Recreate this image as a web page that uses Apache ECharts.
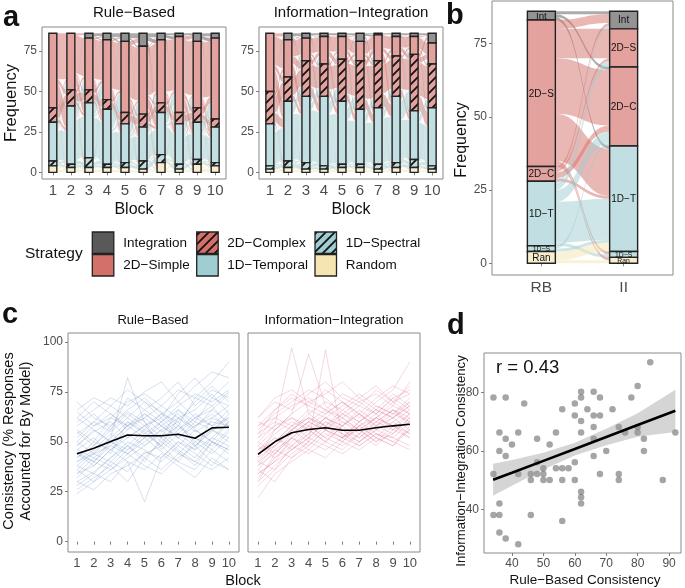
<!DOCTYPE html>
<html>
<head>
<meta charset="utf-8">
<script src="https://cdn.jsdelivr.net/npm/echarts@6/dist/echarts.min.js"></script>
<style>
  html, body { margin: 0; padding: 0; background: #fff; }
  #chart { width: 685px; height: 588px; }
</style>
</head>
<body>
<div id="chart"></div>
<script>
// ---- data -------------------------------------------------------------
var strategies = ['Integration', '2D−Simple', '2D−Complex', '1D−Temporal', '1D−Spectral', 'Random'];
var stratShort = ['Int', '2D−S', '2D−C', '1D−T', '1D−S', 'Ran'];
var blocks = [1, 2, 3, 4, 5, 6, 7, 8, 9, 10];
var freqTicks = [0, 25, 50, 75];
var consTicks = [0, 25, 50, 75, 100];
var groups = ['RB', 'II'];

// participants per strategy in each block (same order as strategies, top of the stack first)
var rbCounts = [
  [0, 46, 9, 24, 3, 4],
  [0, 35, 10, 36, 2, 3],
  [3, 32, 8, 34, 6, 3],
  [4, 37, 6, 34, 2, 3],
  [5, 44, 7, 24, 3, 3],
  [8, 42, 8, 21, 5, 2],
  [4, 39, 6, 26, 5, 6],
  [2, 47, 7, 25, 3, 2],
  [5, 41, 9, 23, 3, 5],
  [3, 50, 5, 22, 2, 4]
];
var iiCounts = [
  [0, 36, 20, 26, 2, 2],
  [4, 23, 15, 37, 4, 3],
  [3, 14, 22, 41, 4, 2],
  [2, 17, 20, 43, 2, 2],
  [2, 14, 26, 39, 2, 3],
  [5, 12, 30, 34, 2, 3],
  [1, 16, 29, 35, 3, 2],
  [2, 12, 25, 41, 3, 3],
  [2, 11, 35, 30, 5, 3],
  [6, 13, 27, 36, 2, 2]
];
// final block: RB strategy (rows) -> II strategy (columns)
var rbToII = [
  [1, 0, 1, 1, 0, 0],
  [3, 10, 19, 16, 1, 1],
  [1, 1, 2, 1, 0, 0],
  [1, 2, 4, 14, 1, 0],
  [0, 0, 1, 1, 0, 0],
  [0, 0, 0, 3, 0, 1]
];

// consistency per participant and block
var rbLines = [
  [38,45,52,60,55,48,62,57,66,60],[30,35,42,48,40,52,45,38,50,46],[52,60,55,62,70,65,58,72,68,75],
  [45,40,50,58,62,55,60,48,55,64],[28,34,30,40,36,44,38,32,42,36],[60,66,72,68,75,80,70,78,85,82],
  [42,50,46,54,48,56,62,55,60,58],[36,30,40,35,45,42,50,44,38,48],[55,48,58,65,60,52,66,60,72,68],
  [48,55,60,52,58,64,56,62,58,66],[34,42,38,46,52,45,40,50,56,52],[65,58,62,70,74,68,76,72,80,90],
  [40,46,54,48,42,50,58,52,46,55],[50,44,48,56,64,58,52,46,62,58],[26,32,38,30,42,36,44,40,36,42],
  [58,64,56,72,66,60,68,74,70,76],[44,38,46,52,58,62,54,48,56,50],[32,40,48,44,50,56,48,42,52,60],
  [62,70,64,58,66,72,80,68,76,72],[46,52,44,60,54,48,56,64,58,62],[38,34,42,50,46,40,48,56,50,44],
  [54,60,68,62,56,64,70,62,66,74],[30,26,34,38,44,48,40,36,46,40],[48,56,50,46,54,60,52,58,64,56],
  [70,62,58,66,72,64,60,70,78,70],[42,48,56,64,58,50,44,52,48,56],[36,44,40,48,56,52,58,50,44,52],
  [56,50,62,58,52,60,66,58,62,68],[24,30,36,44,38,34,42,48,40,36],[50,58,64,56,62,68,62,66,74,64],
  [44,40,36,42,48,54,46,40,50,46],[62,56,50,58,64,58,52,60,56,62],[40,44,52,82,60,46,54,62,68,58],
  [34,38,46,40,20,42,50,46,52,48],[66,72,68,76,70,62,74,82,72,80],[46,42,50,44,52,58,64,56,50,60]
];
var iiLines = [
  [40,50,58,62,56,64,60,66,62,70],[30,38,46,52,48,44,50,56,52,48],[52,62,68,72,66,74,70,64,72,76],
  [44,52,48,56,62,58,52,60,66,60],[34,40,52,46,54,50,58,52,48,56],[58,66,72,68,76,70,64,72,78,74],
  [46,54,60,56,50,58,64,58,54,62],[38,44,54,60,66,60,54,62,58,64],[50,58,97,64,58,66,60,68,64,70],
  [42,48,56,62,58,52,56,50,58,54],[28,36,44,50,46,52,48,54,50,46],[62,70,66,74,80,72,68,76,70,78],
  [48,56,62,58,64,70,64,58,66,62],[36,30,42,48,56,50,58,64,56,60],[54,60,56,64,70,66,72,66,74,68],
  [40,46,52,58,52,60,56,62,68,64],[32,42,48,44,50,46,54,48,56,52],[56,64,70,76,72,64,70,74,68,80],
  [44,50,58,52,60,56,50,58,62,56],[22,34,40,46,42,50,46,52,48,58],[60,56,64,70,66,62,68,64,72,66],
  [46,52,46,54,62,58,66,60,56,64],[38,48,56,50,58,64,58,52,60,54],[50,44,52,60,56,52,60,66,62,68],
  [42,56,64,94,68,62,56,62,70,64],[34,40,46,52,60,54,48,54,52,60],[58,62,58,66,62,68,74,68,64,72],
  [48,42,50,58,52,48,54,60,66,58],[30,44,52,48,56,62,56,50,54,62],[54,66,74,68,64,70,62,70,76,90],
  [44,48,54,60,56,52,58,62,58,52],[40,36,48,54,62,56,52,58,64,60],[52,58,62,56,50,58,64,56,60,66],
  [36,46,42,50,96,52,60,54,50,56],[62,72,76,70,74,80,72,78,70,74],[46,50,56,62,58,54,50,56,62,68]
];
var rbMean = [44, 46.8, 50.2, 53.4, 53, 53, 53.8, 51.8, 57, 57.3];
var iiMean = [43.7, 50, 54.5, 56.2, 57, 55.8, 55.8, 57, 58, 58.8];

// mean consistency per participant
var rbCons = [34.1,38,43.9,34.1,36,36,38,38,40,42,42,36,34.1,36,36,38,42,46,46,46,48,48,48,50,50,50,52,52,54,54,
  56,56,56,56,58,60,60,60,60,62,62,62,62,62,62,62,64,66,66,66,66,66,68,68,68,72,70,74,74,74,76,78,80,80,80,82,82,84,88,92];
var iiCons = [78.3,78.3,76.3,52.1,66.3,60,64.2,58.3,62.2,66.3,52.1,42,38,38,32,30,28,38,50,52.1,52.1,64.2,56.1,54.1,52.1,50,50,62.2,66.3,54.1,
  54.1,50,74.3,36,54.1,76.3,72.2,56.1,50,80.3,78.3,70.3,66.3,46,44.1,42,74.3,80.3,72.2,68.2,64.2,58.3,78.3,72.2,52.1,74.3,60,68.2,52.1,50,
  66.3,78.3,82.3,68.2,66.3,64.2,60,90.4,50,66.3];
var fitX = [34, 40, 50, 60, 70, 80, 92];
var fitY = [50.1, 52.5, 56.6, 60.7, 64.8, 68.9, 73.8];
var fitUpper = [55.6, 56.9, 59.4, 62.8, 67.6, 72.9, 81.0];
var fitLower = [44.6, 48.1, 53.6, 58.4, 62.0, 64.9, 66.5];
var rText = 'r = 0.43';

// ---- styling helpers ---------------------------------------------------
var FONT = 'Liberation Sans, Arial, Helvetica, sans-serif';
var baseColors = ['#595959', '#d4706a', '#d4706a', '#9fcdd2', '#9fcdd2', '#f4e5b2'];
var hatched = [false, false, true, false, true, false];
var tickGray = '#7f7f7f', labelGray = '#4d4d4d';

function hexRgb(h) { return [parseInt(h.substr(1, 2), 16), parseInt(h.substr(3, 2), 16), parseInt(h.substr(5, 2), 16)]; }
function lighten(h, a) {
  var c = hexRgb(h);
  return 'rgb(' + c.map(function (v) { return Math.round(255 - a * (255 - v)); }).join(',') + ')';
}
function rgba(h, a) { return 'rgba(' + hexRgb(h).join(',') + ',' + a + ')'; }
function hatch(bg, size) {
  var c = document.createElement('canvas');
  c.width = size; c.height = size;
  var g = c.getContext('2d');
  g.fillStyle = bg; g.fillRect(0, 0, size, size);
  g.strokeStyle = '#111'; g.lineWidth = 1.8;
  g.beginPath();
  g.moveTo(0, size); g.lineTo(size, 0);
  g.moveTo(-2, 2); g.lineTo(2, -2);
  g.moveTo(size - 2, size + 2); g.lineTo(size + 2, size - 2);
  g.stroke();
  return { image: c, repeat: 'repeat' };
}
var plainFill = baseColors.map(function (c) { return lighten(c, 0.65); });
var strataFill = plainFill.map(function (bg, k) { return hatched[k] ? hatch(bg, 9) : bg; });
var legendFill = baseColors.map(function (c, k) { return hatched[k] ? hatch(c, 9) : c; });
var flowFill = baseColors.map(function (c) { return rgba(c, 0.5); });

function sum(a) { return a.reduce(function (s, v) { return s + v; }, 0); }

// derive a transition table between two neighbouring blocks:
// part of each strategy stays, the rest mixes in proportion to what is left
function blockFlows(a, b) {
  var n = a.length, keep = [], outR = [], inR = [], tot = 0, f = [];
  for (var i = 0; i < n; i++) {
    keep[i] = 0.55 * Math.min(a[i], b[i]);
    outR[i] = a[i] - keep[i]; inR[i] = b[i] - keep[i]; tot += outR[i];
  }
  for (i = 0; i < n; i++) {
    f[i] = [];
    for (var j = 0; j < n; j++) f[i][j] = (i === j ? keep[i] : 0) + (tot ? outR[i] * inR[j] / tot : 0);
  }
  return f;
}
function ribbons(f, a, c, xa, xb) {
  var out = [], aOff = [], cOff = [], ta = sum(a), tc = sum(c);
  for (var k = 0; k < a.length; k++) { aOff[k] = ta; ta -= a[k]; cOff[k] = tc; tc -= c[k]; }
  for (var i = 0; i < a.length; i++) {
    for (var j = 0; j < c.length; j++) {
      var v = f[i][j];
      if (v < 0.02) continue;
      out.push([xa, aOff[i], aOff[i] - v, xb, cOff[j], cOff[j] - v, i]);
      aOff[i] -= v; cOff[j] -= v;
    }
  }
  return out;
}
function flowData(counts, xs, hw) {
  var out = [];
  for (var b = 0; b < counts.length - 1; b++) {
    out = out.concat(ribbons(blockFlows(counts[b], counts[b + 1]), counts[b], counts[b + 1], xs[b] + hw, xs[b + 1] - hw));
  }
  return out;
}
function strataData(counts, xs) {
  var out = [];
  counts.forEach(function (c, b) {
    var top = sum(c);
    c.forEach(function (v, k) {
      if (v > 0) out.push([xs[b], top - v, top, k]);
      top -= v;
    });
  });
  return out;
}

function renderFlow(params, api) {
  var p1 = api.coord([api.value(0), api.value(1)]);
  var p2 = api.coord([api.value(0), api.value(2)]);
  var q1 = api.coord([api.value(3), api.value(4)]);
  var q2 = api.coord([api.value(3), api.value(5)]);
  var xm = (p1[0] + q1[0]) / 2;
  var d = 'M' + p1[0] + ' ' + p1[1] +
    'C' + xm + ' ' + p1[1] + ' ' + xm + ' ' + q1[1] + ' ' + q1[0] + ' ' + q1[1] +
    'L' + q2[0] + ' ' + q2[1] +
    'C' + xm + ' ' + q2[1] + ' ' + xm + ' ' + p2[1] + ' ' + p2[0] + ' ' + p2[1] + 'Z';
  return { type: 'path', shape: { pathData: d }, style: { fill: flowFill[api.value(6)] } };
}
function stratumRenderer(hw, fills, withLabel) {
  return function (params, api) {
    var k = api.value(3);
    var a = api.coord([api.value(0) - hw, api.value(2)]);
    var b = api.coord([api.value(0) + hw, api.value(1)]);
    var rect = {
      type: 'rect',
      shape: { x: a[0], y: a[1], width: b[0] - a[0], height: b[1] - a[1] },
      style: { fill: fills[k], stroke: '#222', lineWidth: 1.4 }
    };
    if (!withLabel) return rect;
    var h = b[1] - a[1];
    return {
      type: 'group',
      children: [rect, {
        type: 'text',
        style: {
          text: stratShort[k], x: (a[0] + b[0]) / 2, y: (a[1] + b[1]) / 2 + 0.5,
          align: 'center', verticalAlign: 'middle',
          fontSize: Math.min(10, h + 1), fontFamily: FONT, fill: '#111'
        }
      }]
    };
  };
}

function axis(gi, min, max, ticks, fontSize, margin, show, fmt) {
  return {
    type: 'value', gridIndex: gi, min: min, max: max,
    splitLine: { show: false },
    axisLine: { show: false },
    axisTick: { show: show, length: 3, lineStyle: { color: tickGray }, customValues: ticks },
    axisLabel: { show: show, fontSize: fontSize, color: labelGray, margin: margin, fontFamily: FONT,
      customValues: ticks, formatter: fmt }
  };
}
var gridStyle = { show: true, borderColor: '#8a8a8a', borderWidth: 1, backgroundColor: '#fff' };
function grid(l, t, w, h) {
  return Object.assign({ left: l, top: t, width: w, height: h }, gridStyle);
}

// ---- series -------------------------------------------------------------
var aHalf = 0.22, bHalf = 0.17;
var series = [];
[rbCounts, iiCounts].forEach(function (counts, gi) {
  series.push({ type: 'custom', xAxisIndex: gi, yAxisIndex: gi, renderItem: renderFlow,
    data: flowData(counts, blocks, aHalf), silent: true, z: 2 });
  series.push({ type: 'custom', xAxisIndex: gi, yAxisIndex: gi, renderItem: stratumRenderer(aHalf, strataFill, false),
    data: strataData(counts, blocks), silent: true, z: 3 });
});
var finals = [rbCounts[9], iiCounts[9]];
series.push({ type: 'custom', xAxisIndex: 2, yAxisIndex: 2, renderItem: renderFlow,
  data: ribbons(rbToII, finals[0], finals[1], 1 + bHalf, 2 - bHalf), silent: true, z: 2 });
series.push({ type: 'custom', xAxisIndex: 2, yAxisIndex: 2, renderItem: stratumRenderer(bHalf, plainFill, true),
  data: strataData(finals, [1, 2]), silent: true, z: 3 });

[[rbLines, rbMean, 'rgba(95,135,195,0.26)'], [iiLines, iiMean, 'rgba(215,105,140,0.26)']].forEach(function (g, i) {
  g[0].forEach(function (l) {
    series.push({ type: 'line', xAxisIndex: 3 + i, yAxisIndex: 3 + i, symbol: 'none', silent: true, z: 2,
      lineStyle: { width: 1, color: g[2] },
      data: blocks.map(function (b, j) { return [b, l[j]]; }) });
  });
  series.push({ type: 'line', xAxisIndex: 3 + i, yAxisIndex: 3 + i, symbol: 'none', silent: true, z: 4,
    lineStyle: { width: 1.6, color: '#000' },
    data: blocks.map(function (b, j) { return [b, g[1][j]]; }) });
});

series.push({ type: 'scatter', xAxisIndex: 5, yAxisIndex: 5, symbolSize: 6.5, silent: true, z: 2,
  itemStyle: { color: 'rgba(50,50,50,0.55)' },
  data: rbCons.map(function (x, i) { return [x, iiCons[i]]; }) });
series.push({ type: 'custom', xAxisIndex: 5, yAxisIndex: 5, silent: true, z: 3, data: [[fitX[0], fitY[0]]],
  renderItem: function (params, api) {
    var pts = fitX.map(function (x, i) { return api.coord([x, fitUpper[i]]); });
    for (var i = fitX.length - 1; i >= 0; i--) pts.push(api.coord([fitX[i], fitLower[i]]));
    return { type: 'polygon', shape: { points: pts }, style: { fill: 'rgba(150,150,150,0.4)' } };
  } });
series.push({ type: 'line', xAxisIndex: 5, yAxisIndex: 5, symbol: 'none', silent: true, z: 4,
  lineStyle: { width: 2.6, color: '#000' },
  data: fitX.map(function (x, i) { return [x, fitY[i]]; }) });

// ---- text & legend ------------------------------------------------------
function txt(x, y, s, size, opt) {
  opt = opt || {};
  return { type: 'text', x: x, y: y, rotation: opt.rot || 0, silent: true,
    style: { text: s, fontSize: size, fontFamily: FONT, fontWeight: opt.bold ? 'bold' : 'normal',
      fill: opt.color || '#111', align: opt.align || 'center', verticalAlign: 'middle' } };
}
var graphics = [
  txt(3, 18, 'a', 29, { bold: true, align: 'left' }),
  txt(446, 16, 'b', 29, { bold: true, align: 'left' }),
  txt(2, 315, 'c', 29, { bold: true, align: 'left' }),
  txt(447, 326, 'd', 29, { bold: true, align: 'left' }),
  txt(134, 12.5, 'Rule−Based', 15),
  txt(351, 12.5, 'Information−Integration', 15),
  txt(11, 103, 'Frequency', 16.5, { rot: Math.PI / 2 }),
  txt(134, 210, 'Block', 16),
  txt(351, 210, 'Block', 16),
  txt(462, 140, 'Frequency', 16, { rot: Math.PI / 2 }),
  txt(153, 320, 'Rule−Based', 13),
  txt(334, 320, 'Information−Integration', 13.5),
  txt(9, 441, 'Consistency (% Responses', 14.5, { rot: Math.PI / 2 }),
  txt(26, 441, 'Accounted for By Model)', 14.5, { rot: Math.PI / 2 }),
  txt(243, 581, 'Block', 14.5),
  txt(461, 461, 'Information−Integration Consistency', 13.2, { rot: Math.PI / 2 }),
  txt(585, 580, 'Rule−Based Consistency', 13.5),
  txt(496, 368, rText, 18.5, { align: 'left' }),
  txt(25, 254, 'Strategy', 15.5, { align: 'left' })
];
var legCols = [92.3, 196.7, 315], legRows = [232, 254.5], legText = [123.3, 227.3, 345.7];
strategies.forEach(function (s, k) {
  var col = Math.floor(k / 2), row = k % 2;
  graphics.push({ type: 'rect', silent: true,
    shape: { x: legCols[col], y: legRows[row], width: 21.5, height: 21.5 },
    style: { fill: legendFill[k], stroke: '#222', lineWidth: 1.3 } });
  graphics.push(txt(legText[col], legRows[row] + 11, s, 13.5, { align: 'left' }));
});

// ---- chart ------------------------------------------------------------
var chart = echarts.init(document.getElementById('chart'), null, { renderer: 'canvas' });
chart.setOption({
  animation: false,
  textStyle: { fontFamily: FONT },
  grid: [
    grid(42, 27, 184, 152),
    grid(259, 27, 184, 152),
    grid(492, 1, 181, 274),
    grid(68, 333, 171, 219),
    grid(248, 333, 172, 219),
    grid(484, 353, 197, 200)
  ],
  xAxis: [
    axis(0, 0.4, 10.6, blocks, 15, 4, true),
    axis(1, 0.4, 10.6, blocks, 15, 4, true),
    axis(2, 0.4, 2.6, [1, 2], 15.5, 5, true, function (v) { return groups[v - 1]; }),
    axis(3, 0.47, 10.6, blocks, 13, 5, true),
    axis(4, 0.41, 10.6, blocks, 13, 5, true),
    axis(5, 31.1, 93.8, [40, 50, 60, 70, 80, 90], 12, 5, true)
  ],
  yAxis: [
    axis(0, -4.1, 89.9, freqTicks, 12, 5, true),
    axis(1, -4.1, 89.9, freqTicks, 12, 5, true),
    axis(2, -4.0, 89.5, freqTicks, 12, 5, true),
    axis(3, -5.2, 104.5, consTicks, 12, 5, true),
    axis(4, -5.2, 104.5, consTicks, 12, 5, false),
    axis(5, 25.0, 93.6, [40, 60, 80], 12, 5, true)
  ],
  series: series,
  graphic: graphics
});
</script>
</body>
</html>
